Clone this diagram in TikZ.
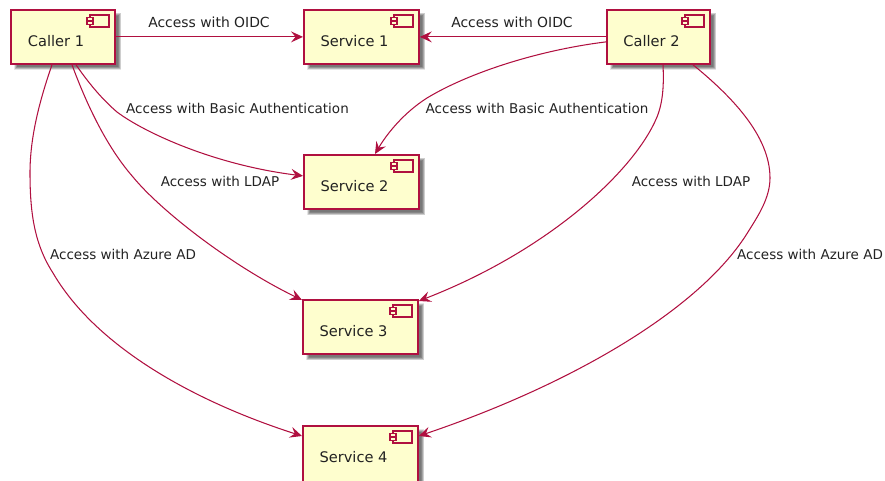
\documentclass[tikz,border=0pt]{standalone}
\usepackage{fontspec}
\setmainfont{DejaVu Sans}
\usetikzlibrary{arrows.meta,calc}
\definecolor{umlborder}{HTML}{B01040}
\definecolor{umlfill}{HTML}{FEFECE}
\definecolor{umltext}{HTML}{222222}
\tikzset{
  comp/.style={draw=umlborder,line width=1.8pt,fill=umlfill,inner sep=0pt,anchor=north west},
  shade1/.style={fill=black,opacity=.1},
  conn/.style={draw=umlborder,line width=1.05pt,-{Stealth[length=12pt,width=11pt,inset=4.5pt]}},
  lab/.style={text=umltext,font=\fontsize{13.5}{15}\selectfont,inner sep=0pt},
  labw/.style={text=umltext,font=\fontsize{13.9}{15}\selectfont,inner sep=0pt},
}
\newcommand{\compbox}[6]{% name, x, y, w, h, text
  \foreach \d in {1,2,3,4,5,6,7}{\fill[shade1] (#2+7.5-\d/2,#3+7.5-\d/2) rectangle (#2+#4+3.5+\d/2,#3+#5+3.5+\d/2);}
  \node[comp,minimum width=#4pt,minimum height=#5pt] (#1) at (#2,#3) {};
  \node[text=umltext,font=\fontsize{14.6}{16}\selectfont,inner sep=0pt] (#1t) at (#2+#4/2-6,#3+32) {#6};
  \draw[umlborder,line width=1.4pt,fill=umlfill] (#2+#4-24,#3+6) rectangle (#2+#4-5,#3+18);
  \draw[umlborder,line width=1.1pt,fill=umlfill] (#2+#4-27,#3+8.5) rectangle (#2+#4-21,#3+11.5);
  \draw[umlborder,line width=1.1pt,fill=umlfill] (#2+#4-27,#3+12.5) rectangle (#2+#4-21,#3+15.5);
}
\begin{document}
\begin{tikzpicture}[x=1pt,y=-1pt]
\useasboundingbox (0,0) rectangle (885,481);
\compbox{c1}{10}{9}{104}{54}{Caller 1}
\compbox{c2}{606}{9}{103}{54}{Caller 2}
\compbox{s1}{303}{9}{115}{54}{Service 1}
\compbox{s2}{303}{154}{115}{54}{Service 2}
\compbox{s3}{302}{299}{115}{54}{Service 3}
\compbox{s4}{302}{425}{115}{56}{Service 4}

\draw[conn] (c1.east) -- (s1.west);
\draw[conn] (c2.west) -- (s1.east);
\draw[conn] ([xshift=66pt]c1.south west) .. controls (90,85) and (103,100) .. (117,112)
   .. controls (145,133) and (215,165) .. ([yshift=6pt]s2.west);
\draw[conn] ([xshift=62pt]c1.south west) .. controls (85,100) and (105,145) .. (133,177)
   .. controls (160,210) and (230,265) .. ([yshift=-1pt]s3.north west);
\draw[conn] ([xshift=42pt]c1.south west) .. controls (38,105) and (30,140) .. (30,173)
   .. controls (30,215) and (35,245) .. (53,273)
   .. controls (95,345) and (190,400) .. ([yshift=-11pt]s4.north west);
\draw[conn] ([yshift=-5pt]c2.west) .. controls (540,50) and (470,72) .. (427,98)
   .. controls (405,112) and (388,132) .. ([xshift=72pt]s2.north west);
\draw[conn] ([xshift=57pt]c2.south west) .. controls (664,85) and (663,102) .. (657,117)
   .. controls (635,170) and (550,250) .. ([yshift=-2pt]s3.north east);
\draw[conn] ([xshift=87pt]c2.south west) .. controls (730,95) and (770,135) .. (770,178)
   .. controls (770,198) and (758,216) .. (748,232)
   .. controls (700,310) and (570,385) .. ([yshift=-11pt]s4.north east);

\node[labw] (l1) at (209,22) {Access with OIDC};
\node[labw] (l2) at (512,22) {Access with OIDC};
\node[lab] (l3) at (237.5,108) {Access with Basic Authentication};
\node[lab] (l4) at (537,108) {Access with Basic Authentication};
\node[lab] (l5) at (220,181) {Access with LDAP};
\node[lab] (l6) at (691,181) {Access with LDAP};
\node[lab] (l7) at (123,254) {Access with Azure AD};
\node[lab] (l8) at (810,254) {Access with Azure AD};
\end{tikzpicture}
\end{document}
